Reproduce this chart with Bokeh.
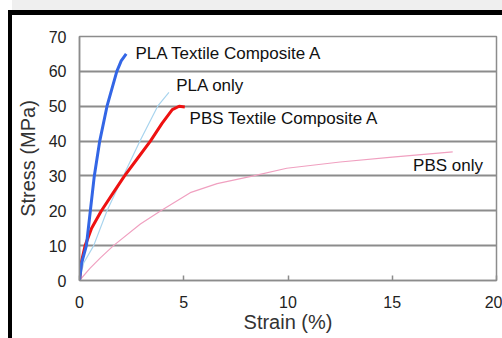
from bokeh.plotting import figure
from bokeh.models import ColumnDataSource, FixedTicker
from bokeh.core.properties import value
from bokeh.embed import file_html
from bokeh.resources import INLINE

# ---- data ----
pla_comp_strain = [0, 0.1, 0.33, 0.52, 0.71, 0.97, 1.32, 1.79, 2.0, 2.24]
pla_comp_stress = [0, 5, 10, 20, 30, 40, 50, 60, 63, 65]

pla_only_strain = [0, 0.2, 0.68, 1.32, 2.1, 2.9, 3.75, 4.29]
pla_only_stress = [0, 5, 10, 20, 30, 40, 50, 54]

pbs_comp_strain = [0, 0.08, 0.27, 0.58, 1.05, 1.6, 2.16, 2.78, 3.4, 3.95, 4.45, 4.78, 5.05]
pbs_comp_stress = [0, 5, 10, 15, 20, 25, 30, 35, 40, 45, 49, 50, 49.8]

pbs_only_strain = [0, 0.5, 1.0, 1.63, 2.92, 3.9, 5.31, 6.6, 8.34, 9.94, 12.5, 15, 17.9]
pbs_only_stress = [0, 3.5, 6.5, 10, 16.2, 20, 25.2, 27.8, 30, 32.2, 34, 35.4, 36.9]

label_texts = ["PLA  Textile Composite A", "PLA  only", "PBS  Textile Composite A", "PBS  only"]
label_x = [2.68, 4.64, 5.28, 16.0]
label_y = [65.1, 56.0, 46.4, 32.9]

x_ticks = [0, 5, 10, 15, 20]
y_ticks = [0, 10, 20, 30, 40, 50, 60, 70]

FONT = "Liberation Sans"
W, H = 490, 323

p = figure(width=W, height=H, output_backend="svg", toolbar_location=None,
           x_range=(0, 20), y_range=(0, 70),
           min_border_left=67, min_border_right=6, min_border_top=21, min_border_bottom=58)
# black picture frame (top and left edges), drawn as shadows so that layout is unaffected
p.styles = {"margin-left": "12px", "margin-top": "15px",
            "box-shadow": ("-4px -5px 0 0 #000000, 0 -5px 0 0 #000000, "
                           "-4px 0 0 0 #000000, 0 -15px 0 0 #efefef")}

p.background_fill_color = "white"
p.border_fill_color = "white"
p.outline_line_color = "#8c8c8c"
p.outline_line_width = 1.5

p.xgrid.grid_line_color = None
p.ygrid.grid_line_color = "#8c8c8c"
p.ygrid.grid_line_width = 2

p.xaxis.ticker = FixedTicker(ticks=x_ticks)
p.yaxis.ticker = FixedTicker(ticks=y_ticks)
for ax in (p.xaxis, p.yaxis):
    ax.axis_line_color = "#8c8c8c"
    ax.axis_line_width = 1.5
    ax.minor_tick_line_color = None
    ax.major_label_text_font = FONT
    ax.major_label_text_font_size = "16px"
    ax.major_label_text_color = "#222222"
    ax.axis_label_text_font = FONT
    ax.axis_label_text_font_size = "20px"
    ax.axis_label_text_font_style = "normal"
    ax.axis_label_text_color = "#333333"

p.xaxis.major_tick_in = 5
p.xaxis.major_tick_out = 0
p.xaxis.major_tick_line_color = "#8c8c8c"
p.xaxis.major_tick_line_width = 1.5
p.yaxis.major_tick_in = 0
p.yaxis.major_tick_out = 0
p.xaxis.major_label_standoff = 15
p.yaxis.major_label_standoff = 13
p.xaxis.axis_label = "Strain (%)"
p.yaxis.axis_label = "Stress (MPa)"
p.xaxis.axis_label_standoff = 0
p.yaxis.axis_label_standoff = 7

p.line(pbs_only_strain, pbs_only_stress, line_color="#f0a0c0", line_width=1.2)
p.line(pla_only_strain, pla_only_stress, line_color="#a8d4ee", line_width=1.2)
p.line(pbs_comp_strain, pbs_comp_stress, line_color="#ee1111", line_width=3)
p.line(pla_comp_strain, pla_comp_stress, line_color="#3366e6", line_width=3)

src = ColumnDataSource(dict(x=label_x, y=label_y, t=label_texts))
p.text(x="x", y="y", text="t", source=src, text_font=value(FONT), text_font_size="17px",
       text_color="#111111", text_align="left", text_baseline="middle")

open("out.html", "w").write(file_html(p, INLINE))
